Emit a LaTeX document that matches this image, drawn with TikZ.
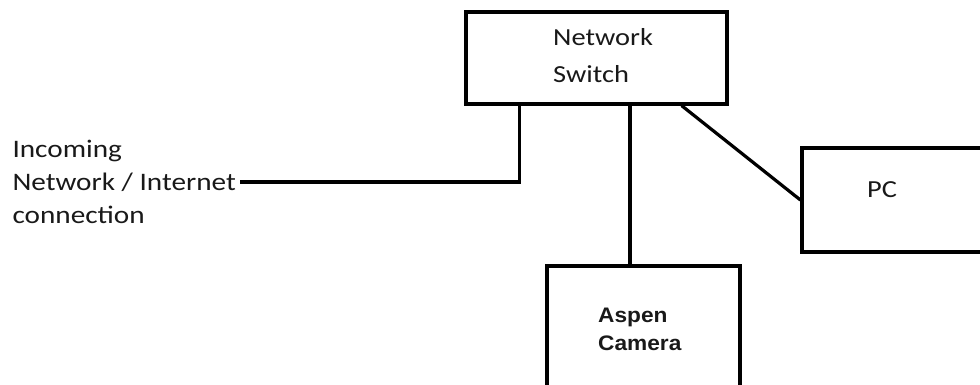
\documentclass[tikz,border=0pt]{standalone}
\usepackage{fontspec}
\setmainfont{Carlito}[FakeStretch=1.16]
\newfontfamily\camfont{Liberation Sans}[FakeStretch=1.08]
\begin{document}
\begin{tikzpicture}[x=1pt,y=1pt,
  box/.style={draw=black, line width=3.2pt, inner sep=0pt},
  wire/.style={draw=black, line width=3.2pt},
  lbl/.style={inner sep=0pt, text=black!90, align=left, font=\fontsize{24.5}{37}\selectfont},
  incl/.style={inner ysep=0pt, inner xsep=4pt, text=black!90, align=left, font=\fontsize{25.2}{33}\selectfont},
  caml/.style={inner sep=0pt, text=black!90, align=left, font=\camfont\bfseries\fontsize{21}{28}\selectfont}]
\useasboundingbox (0,0) rectangle (980,-385);
% boxes
\node[box, minimum width=261pt, minimum height=92pt] (sw) at (596.5,-58) {};
\node[box, minimum width=188pt, minimum height=104pt] (pc) at (896,-200) {};
\node[box, minimum width=193pt, minimum height=134pt] (cam) at (643.5,-333) {};
% labels
\node[lbl, anchor=base west] (swt) at (553,-83) {Network\\Switch};
\node[lbl, anchor=base west] (pct) at (867,-197) {PC};
\node[caml, anchor=base west] (camt) at (598,-350) {Aspen\\Camera};
\node[incl, anchor=east] (inc) at (240,-182) {Incoming\\Network / Internet\\connection};
% connectors
\draw[wire] (inc.east) -| ([xshift=55pt]sw.south west);
\draw[wire] ([xshift=-13.5pt]cam.north) -- ([xshift=-13.5pt]cam.north |- sw.south);
\draw[wire] ([xshift=-47pt]sw.south east) -- (pc.west);
\end{tikzpicture}
\end{document}
